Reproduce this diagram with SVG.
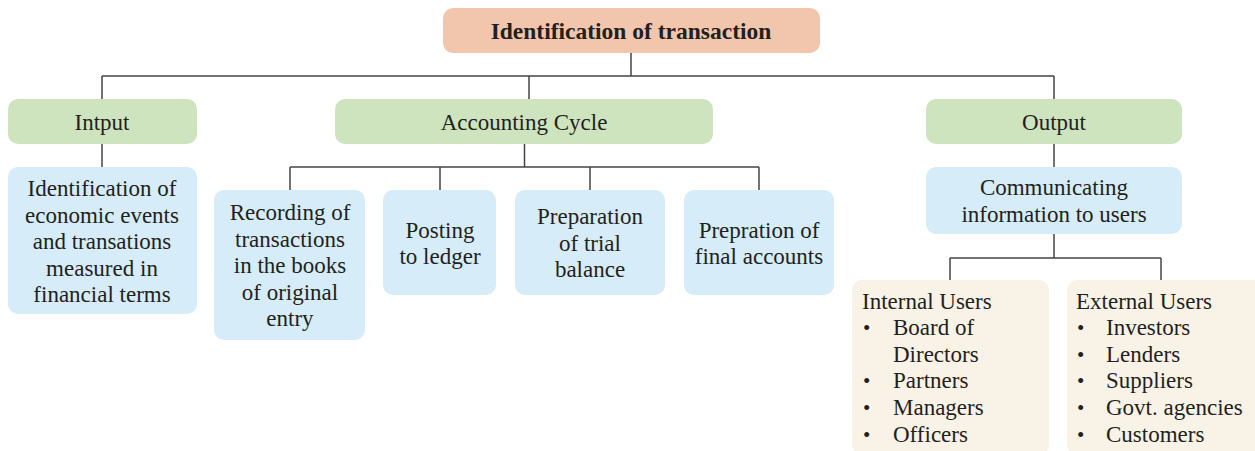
<svg xmlns="http://www.w3.org/2000/svg" width="1255" height="451" viewBox="0 0 1255 451">
<style>
  text { font-family: "Liberation Serif", "Times New Roman", serif; font-size: 23px; fill: #231f20; }
  .c { text-anchor: middle; }
  .b { font-weight: bold; font-size: 23.5px; }
  .peach { fill: #f2c6ad; }
  .green { fill: #cde4bf; }
  .blue { fill: #d6ecf9; }
  .cream { fill: #f8f2e7; }
  .ln { fill: none; stroke: #444; stroke-width: 1.5; }
  .bul { font-size: 21px; }
</style>
<rect width="1255" height="451" fill="#ffffff"/>
<g id="connectors">
  <path class="ln" d="M631 53V76M102 76H1054M102 76V99M529 76V99M1054 76V99"/>
  <path class="ln" d="M102 144V167"/>
  <path class="ln" d="M524.5 144V167M290 167H759M290 167V190M440 167V190M590 167V190M759 167V190"/>
  <path class="ln" d="M1054 144V167M1054 234V258M950 258H1161M950 258V280M1161 258V280"/>
</g>
<g id="root">
  <rect class="peach" x="443" y="8" width="377" height="45" rx="10"/>
  <text class="c b" x="631" y="39">Identification of transaction</text>
</g>
<g id="input">
  <rect class="green" x="8" y="99" width="189" height="45" rx="10"/>
  <text class="c" x="102" y="130">Intput</text>
</g>
<g id="accounting-cycle">
  <rect class="green" x="335" y="99" width="378" height="45" rx="10"/>
  <text class="c" x="524" y="130">Accounting Cycle</text>
</g>
<g id="output">
  <rect class="green" x="926" y="99" width="256" height="45" rx="10"/>
  <text class="c" x="1054" y="130">Output</text>
</g>
<g id="identification">
  <rect class="blue" x="8" y="167" width="189" height="147" rx="10"/>
  <text class="c" x="102" y="196">Identification of</text>
  <text class="c" x="102" y="222.5">economic events</text>
  <text class="c" x="102" y="249">and transations</text>
  <text class="c" x="102" y="275.5">measured in</text>
  <text class="c" x="102" y="302">financial terms</text>
</g>
<g id="recording">
  <rect class="blue" x="214" y="190" width="151" height="150" rx="10"/>
  <text class="c" x="290" y="220">Recording of</text>
  <text class="c" x="290" y="246.5">transactions</text>
  <text class="c" x="290" y="273">in the books</text>
  <text class="c" x="290" y="299.5">of original</text>
  <text class="c" x="290" y="326">entry</text>
</g>
<g id="posting">
  <rect class="blue" x="383" y="190" width="113" height="105" rx="10"/>
  <text class="c" x="440" y="237.5">Posting</text>
  <text class="c" x="440" y="264">to ledger</text>
</g>
<g id="trial-balance">
  <rect class="blue" x="515" y="190" width="150" height="105" rx="10"/>
  <text class="c" x="590" y="224">Preparation</text>
  <text class="c" x="590" y="250.5">of trial</text>
  <text class="c" x="590" y="277">balance</text>
</g>
<g id="final-accounts">
  <rect class="blue" x="684" y="190" width="150" height="105" rx="10"/>
  <text class="c" x="759" y="237.5">Prepration of</text>
  <text class="c" x="759" y="264">final accounts</text>
</g>
<g id="communicating">
  <rect class="blue" x="926" y="167" width="256" height="67" rx="10"/>
  <text class="c" x="1054" y="195">Communicating</text>
  <text class="c" x="1054" y="222">information to users</text>
</g>
<g id="internal-users">
  <rect class="cream" x="852" y="280" width="197" height="175" rx="10"/>
  <text x="862" y="308.5">Internal Users</text>
  <text class="bul" x="863" y="335">•</text><text x="893" y="335">Board of</text>
  <text x="893" y="361.5">Directors</text>
  <text class="bul" x="863" y="388">•</text><text x="893" y="388">Partners</text>
  <text class="bul" x="863" y="415">•</text><text x="893" y="415">Managers</text>
  <text class="bul" x="863" y="442">•</text><text x="893" y="442">Officers</text>
</g>
<g id="external-users">
  <rect class="cream" x="1067" y="280" width="197" height="175" rx="10"/>
  <text x="1076" y="308.5">External Users</text>
  <text class="bul" x="1077" y="335">•</text><text x="1106" y="335">Investors</text>
  <text class="bul" x="1077" y="361.5">•</text><text x="1106" y="361.5">Lenders</text>
  <text class="bul" x="1077" y="388">•</text><text x="1106" y="388">Suppliers</text>
  <text class="bul" x="1077" y="415">•</text><text x="1106" y="415">Govt. agencies</text>
  <text class="bul" x="1077" y="442">•</text><text x="1106" y="442">Customers</text>
</g>
</svg>
